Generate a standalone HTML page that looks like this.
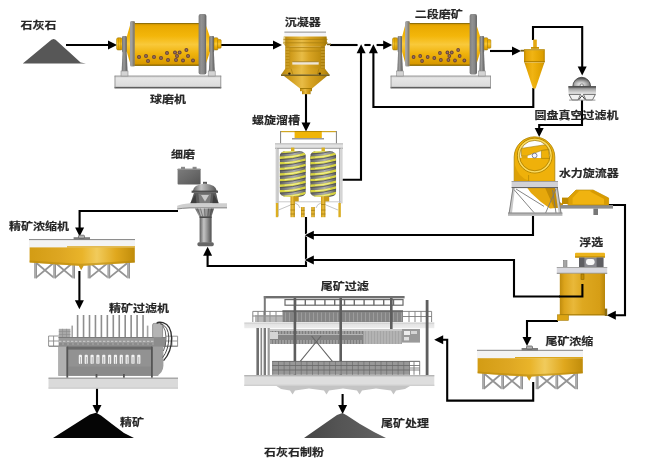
<!DOCTYPE html>
<html lang="zh-CN"><head><meta charset="utf-8"><title>石灰石制粉</title>
<style>
html,body{margin:0;padding:0;background:#fff;}
body{width:650px;height:460px;overflow:hidden;}
svg{display:block;}
text{font-family:"Liberation Sans","Noto Sans CJK SC",sans-serif;font-size:12px;font-weight:700;fill:#262626;stroke:#262626;stroke-width:0.2px;}
.ln{fill:none;stroke:#000;stroke-width:2.1;stroke-linejoin:miter;}
.ah{fill:#000;}
</style></head><body>
<svg width="650" height="460" viewBox="0 0 650 460">
<defs>
<linearGradient id="gDrum" x1="0" y1="0" x2="0" y2="1">
<stop offset="0" stop-color="#c48c00"/><stop offset="0.06" stop-color="#e9a900"/><stop offset="0.3" stop-color="#f3b60a"/><stop offset="0.5" stop-color="#f9c93a"/><stop offset="0.72" stop-color="#efb20c"/><stop offset="0.95" stop-color="#d99a00"/><stop offset="1" stop-color="#a87800"/>
</linearGradient>
<linearGradient id="gRing" x1="0" y1="0" x2="1" y2="0">
<stop offset="0" stop-color="#7c7c7c"/><stop offset="0.35" stop-color="#929292"/><stop offset="0.7" stop-color="#868686"/><stop offset="1" stop-color="#5c5c5c"/>
</linearGradient>
<linearGradient id="gPost" x1="0" y1="0" x2="1" y2="0">
<stop offset="0" stop-color="#6e6e6e"/><stop offset="0.4" stop-color="#9a9a9a"/><stop offset="1" stop-color="#585858"/>
</linearGradient>
<linearGradient id="gBase" x1="0" y1="0" x2="0" y2="1">
<stop offset="0" stop-color="#c9c9c9"/><stop offset="0.2" stop-color="#e6e6e6"/><stop offset="0.8" stop-color="#dcdcdc"/><stop offset="1" stop-color="#9a9a9a"/>
</linearGradient>
<linearGradient id="gTank" x1="0" y1="0" x2="1" y2="0">
<stop offset="0" stop-color="#c08a00"/><stop offset="0.12" stop-color="#e4a404"/><stop offset="0.4" stop-color="#f0b414"/><stop offset="0.6" stop-color="#eaac08"/><stop offset="0.9" stop-color="#dc9e00"/><stop offset="1" stop-color="#b88400"/>
</linearGradient>
<linearGradient id="gThk" x1="0" y1="0" x2="1" y2="0">
<stop offset="0" stop-color="#d39c14"/><stop offset="0.3" stop-color="#dea722"/><stop offset="0.5" stop-color="#e9b42a"/><stop offset="0.64" stop-color="#f1cb5c"/><stop offset="0.82" stop-color="#e0a81e"/><stop offset="1" stop-color="#c08c0a"/>
</linearGradient>
<linearGradient id="gPile" x1="0" y1="0" x2="1" y2="0">
<stop offset="0" stop-color="#464646"/><stop offset="0.45" stop-color="#555"/><stop offset="1" stop-color="#626262"/>
</linearGradient>
<linearGradient id="gGrayV" x1="0" y1="0" x2="0" y2="1">
<stop offset="0" stop-color="#9c9c9c"/><stop offset="0.5" stop-color="#7d7d7d"/><stop offset="1" stop-color="#6a6a6a"/>
</linearGradient>
<linearGradient id="gCyl" x1="0" y1="0" x2="1" y2="0">
<stop offset="0" stop-color="#5e5e5e"/><stop offset="0.35" stop-color="#c4c4c4"/><stop offset="0.6" stop-color="#9a9a9a"/><stop offset="1" stop-color="#4f4f4f"/>
</linearGradient>
<linearGradient id="gDome" x1="0" y1="0" x2="1" y2="1">
<stop offset="0" stop-color="#d8d8d8"/><stop offset="0.5" stop-color="#8c8c8c"/><stop offset="1" stop-color="#444"/>
</linearGradient>
<linearGradient id="gGold" x1="0" y1="0" x2="1" y2="0">
<stop offset="0" stop-color="#b88a10"/><stop offset="0.15" stop-color="#d9a41c"/><stop offset="0.42" stop-color="#efc24a"/><stop offset="0.6" stop-color="#e0aa22"/><stop offset="0.88" stop-color="#c8940e"/><stop offset="1" stop-color="#a87c08"/>
</linearGradient>
<linearGradient id="gSpir" x1="0" y1="0" x2="1" y2="0">
<stop offset="0" stop-color="#5e5e5e"/><stop offset="0.3" stop-color="#8c8c8c"/><stop offset="0.55" stop-color="#b0b0b0"/><stop offset="0.8" stop-color="#8a8a8a"/><stop offset="1" stop-color="#5a5a5a"/>
</linearGradient>
<linearGradient id="gLeg" x1="0" y1="0" x2="1" y2="0">
<stop offset="0" stop-color="#c89616"/><stop offset="0.5" stop-color="#ecc040"/><stop offset="1" stop-color="#b88a10"/>
</linearGradient>
<radialGradient id="gDomeR" cx="0.45" cy="0.75" r="0.7">
<stop offset="0" stop-color="#f4f4f4"/><stop offset="0.45" stop-color="#b0b0b0"/><stop offset="1" stop-color="#484848"/>
</radialGradient>
<linearGradient id="gDiscB" x1="0" y1="0" x2="0" y2="1">
<stop offset="0" stop-color="#5e5e5e"/><stop offset="0.35" stop-color="#a8a8a8"/><stop offset="1" stop-color="#f4f4f4"/>
</linearGradient>
<linearGradient id="gMotor" x1="0" y1="0" x2="1" y2="1">
<stop offset="0" stop-color="#7c7c7c"/><stop offset="0.5" stop-color="#6a6a6a"/><stop offset="1" stop-color="#545454"/>
</linearGradient>
<linearGradient id="gFlot" x1="0" y1="0" x2="1" y2="0">
<stop offset="0" stop-color="#c08c0e"/><stop offset="0.1" stop-color="#dca41c"/><stop offset="0.3" stop-color="#e9b83a"/><stop offset="0.5" stop-color="#dea820"/><stop offset="0.88" stop-color="#d69e16"/><stop offset="1" stop-color="#b8860a"/>
</linearGradient>
<linearGradient id="gSet" x1="0" y1="0" x2="1" y2="0">
<stop offset="0" stop-color="#b08410"/><stop offset="0.15" stop-color="#d09c1c"/><stop offset="0.42" stop-color="#e8bc46"/><stop offset="0.6" stop-color="#d8a424"/><stop offset="0.88" stop-color="#c08e10"/><stop offset="1" stop-color="#a07808"/>
</linearGradient>
<linearGradient id="gPlat" x1="0" y1="0" x2="0" y2="1">
<stop offset="0" stop-color="#bdbdbd"/><stop offset="0.25" stop-color="#e2e2e2"/><stop offset="1" stop-color="#ededed"/>
</linearGradient>

</defs>
<rect width="650" height="460" fill="#fff"/>
<g id="flows"><path class="ln" d="M66 45 L110 45"/>
<polygon class="ah" points="117,45 108,40.5 108,49.5"/>
<path class="ln" d="M221 45 L275 45"/>
<polygon class="ah" points="282,45 273,40.5 273,49.5"/>
<path class="ln" d="M330 45 L357.6 45"/>
<path class="ln" d="M364.4 45 L370.6 45"/>
<path class="ln" d="M376.6 45 L385 45"/>
<polygon class="ah" points="392.2,45 383.2,40.5 383.2,49.5"/>
<path class="ln" d="M306 94 L306 124"/>
<polygon class="ah" points="306,131.5 301.5,122.5 310.5,122.5"/>
<path class="ln" d="M342.4 179.8 L361 179.8 L361 52"/>
<polygon class="ah" points="361.1,44.2 356.6,53.2 365.6,53.2"/>
<path class="ln" d="M533.3 88 L533.3 107 L373.4 107 L373.4 52"/>
<polygon class="ah" points="373.4,44.2 368.9,53.2 377.9,53.2"/>
<path class="ln" d="M490 51 L514 51"/>
<polygon class="ah" points="521,51 512,46.5 512,55.5"/>
<path class="ln" d="M533 40 L533 27 L582.2 27 L582.2 68"/>
<polygon class="ah" points="582.2,75.4 577.7,66.4 586.7,66.4"/>
<path class="ln" d="M582 99 L582 125 L539.2 125 L539.2 129"/>
<polygon class="ah" points="539.2,137 534.7,128 543.7,128"/>
<path class="ln" d="M306 217 L306 266 L207.6 266 L207.6 254"/>
<polygon class="ah" points="207.6,246.8 203.1,255.8 212.1,255.8"/>
<polygon class="ah" stroke="#fff" stroke-width="1.3" style="paint-order:stroke" points="304.8,235.2 313.8,230.7 313.8,239.7"/>
<path class="ln" d="M533 216 L533 235 L311 235"/>
<path class="ln" d="M608 205 L625 205 L625 315.2 L615 315.2"/>
<polygon class="ah" points="606.8,315.2 615.8,310.7 615.8,319.7"/>
<polygon class="ah" stroke="#fff" stroke-width="1.3" style="paint-order:stroke" points="304.8,260 313.8,255.5 313.8,264.5"/>
<path class="ln" d="M582.4 284 L582.4 296.5 L514 296.5 L514 260 L311 260"/>
<path class="ln" d="M558 321 L527 321 L527 339"/>
<polygon class="ah" points="527,346 522.5,337 531.5,337"/>
<path class="ln" d="M533.2 382 L533.2 400.6 L447.2 400.6 L447.2 339.8 L442 339.8"/>
<polygon class="ah" points="434.2,339.8 443.2,335.3 443.2,344.3"/>
<path class="ln" d="M178 211 L79.6 211 L79.6 229"/>
<polygon class="ah" points="79.6,236.5 75.1,227.5 84.1,227.5"/>
<path class="ln" d="M79.4 271 L79.4 301"/>
<polygon class="ah" points="79.4,309.3 74.9,300.3 83.9,300.3"/>
<path class="ln" d="M97 388 L97 407"/>
<polygon class="ah" points="97,414 92.5,405 101.5,405"/>
<path class="ln" d="M342.6 394 L342.6 407"/>
<polygon class="ah" points="342.6,414 338.1,405 347.1,405"/></g>
<polygon points="22.8,63.6 51.4,39.8 53.6,38.9 55.6,39.8 68,51 80.6,62.4 86,63.6" fill="#575757"/>
<polygon points="53,438 90,414.5 96,412.8 101,415.5 112,424 124,433 134,438" fill="#050505"/>
<polygon points="304,438 337,415 342.5,413 347,415.5 360,424 374,432 386,438" fill="url(#gPile)"/>
<g transform="translate(115.6,0)"><rect x="-1" y="75.8" width="106.6" height="12.4" fill="url(#gBase)"/>
<rect x="-1" y="87" width="106.6" height="1.4" fill="#5e5e5e"/>
<rect x="-1" y="75.6" width="106.6" height="0.9" fill="#9a9a9a"/>
<rect x="-1" y="75.8" width="0.8" height="12.4" fill="#8a8a8a"/><rect x="104.8" y="75.8" width="0.8" height="12.4" fill="#8a8a8a"/>
<polygon points="7,50 11,50 12,72 6,72" fill="url(#gPost)"/>
<rect x="5.4" y="71" width="7" height="5" fill="#d4d4d4" stroke="#8a8a8a" stroke-width="0.6"/>
<polygon points="94.2,50 98.2,50 99.2,72 93.2,72" fill="url(#gPost)"/>
<rect x="92.6" y="71" width="7" height="5" fill="#d4d4d4" stroke="#8a8a8a" stroke-width="0.6"/>
<rect x="1" y="37.8" width="5.6" height="12.2" rx="1.5" fill="url(#gDrum)" stroke="#9a7400" stroke-width="0.5"/>
<path d="M3 38 V50 M4.8 38 V50" stroke="#b88a00" stroke-width="0.6"/>
<rect x="6.4" y="36" width="5" height="16.4" rx="1.4" fill="url(#gPost)"/>
<polygon points="11.2,36.5 14.8,24 14.8,64 11.2,52" fill="url(#gDrum)"/>
<rect x="14.4" y="21" width="5" height="45.6" rx="1.5" fill="#a0a0a0"/>
<rect x="17" y="21.5" width="2.4" height="44.6" fill="#6e6040" opacity="0.5"/>
<rect x="19.2" y="23.3" width="64.4" height="42.3" fill="url(#gDrum)"/>
<rect x="19.2" y="23.1" width="64.4" height="0.9" fill="#8a6a00"/>
<rect x="19.2" y="64.8" width="64.4" height="1" fill="#8a6a00"/>
<circle cx="23.4" cy="57.0" r="2" fill="#6a463a"/>
<circle cx="23.4" cy="57.0" r="0.9" fill="#9a7468"/>
<circle cx="30.4" cy="56.0" r="2" fill="#6a463a"/>
<circle cx="30.4" cy="56.0" r="0.9" fill="#9a7468"/>
<circle cx="32.4" cy="61.0" r="2" fill="#6a463a"/>
<circle cx="32.4" cy="61.0" r="0.9" fill="#9a7468"/>
<circle cx="38.4" cy="57.0" r="2" fill="#6a463a"/>
<circle cx="38.4" cy="57.0" r="0.9" fill="#9a7468"/>
<circle cx="45.4" cy="58.0" r="2" fill="#6a463a"/>
<circle cx="45.4" cy="58.0" r="0.9" fill="#9a7468"/>
<circle cx="51.4" cy="53.0" r="2" fill="#6a463a"/>
<circle cx="51.4" cy="53.0" r="0.9" fill="#9a7468"/>
<circle cx="52.4" cy="60.0" r="2" fill="#6a463a"/>
<circle cx="52.4" cy="60.0" r="0.9" fill="#9a7468"/>
<circle cx="59.4" cy="52.4" r="2" fill="#6a463a"/>
<circle cx="59.4" cy="52.4" r="0.9" fill="#9a7468"/>
<circle cx="61.4" cy="56.0" r="2" fill="#6a463a"/>
<circle cx="61.4" cy="56.0" r="0.9" fill="#9a7468"/>
<circle cx="60.4" cy="60.0" r="2" fill="#6a463a"/>
<circle cx="60.4" cy="60.0" r="0.9" fill="#9a7468"/>
<circle cx="64.0" cy="52.4" r="2" fill="#6a463a"/>
<circle cx="64.0" cy="52.4" r="0.9" fill="#9a7468"/>
<circle cx="67.4" cy="60.4" r="2" fill="#6a463a"/>
<circle cx="67.4" cy="60.4" r="0.9" fill="#9a7468"/>
<circle cx="70.8" cy="50.0" r="2" fill="#6a463a"/>
<circle cx="70.8" cy="50.0" r="0.9" fill="#9a7468"/>
<circle cx="72.4" cy="56.0" r="2" fill="#6a463a"/>
<circle cx="72.4" cy="56.0" r="0.9" fill="#9a7468"/>
<circle cx="77.4" cy="60.4" r="2" fill="#6a463a"/>
<circle cx="77.4" cy="60.4" r="0.9" fill="#9a7468"/>
<rect x="83" y="14" width="7.8" height="60.4" rx="2" fill="url(#gRing)"/>
<polygon points="90.6,26 94.4,37 94.4,52 90.6,63" fill="url(#gDrum)"/>
<rect x="93.6" y="36" width="5" height="16.4" rx="1.4" fill="url(#gPost)"/>
<rect x="98.4" y="37.8" width="4" height="12.2" rx="1" fill="url(#gDrum)" stroke="#9a7400" stroke-width="0.5"/>
<rect x="102" y="39.6" width="3.6" height="8.6" rx="1" fill="url(#gDrum)" stroke="#9a7400" stroke-width="0.5"/></g>
<g transform="translate(391.6,0) scale(0.94,1)"><rect x="-1" y="75.8" width="106.6" height="12.4" fill="url(#gBase)"/>
<rect x="-1" y="87" width="106.6" height="1.4" fill="#5e5e5e"/>
<rect x="-1" y="75.6" width="106.6" height="0.9" fill="#9a9a9a"/>
<rect x="-1" y="75.8" width="0.8" height="12.4" fill="#8a8a8a"/><rect x="104.8" y="75.8" width="0.8" height="12.4" fill="#8a8a8a"/>
<polygon points="7,50 11,50 12,72 6,72" fill="url(#gPost)"/>
<rect x="5.4" y="71" width="7" height="5" fill="#d4d4d4" stroke="#8a8a8a" stroke-width="0.6"/>
<polygon points="94.2,50 98.2,50 99.2,72 93.2,72" fill="url(#gPost)"/>
<rect x="92.6" y="71" width="7" height="5" fill="#d4d4d4" stroke="#8a8a8a" stroke-width="0.6"/>
<rect x="1" y="37.8" width="5.6" height="12.2" rx="1.5" fill="url(#gDrum)" stroke="#9a7400" stroke-width="0.5"/>
<path d="M3 38 V50 M4.8 38 V50" stroke="#b88a00" stroke-width="0.6"/>
<rect x="6.4" y="36" width="5" height="16.4" rx="1.4" fill="url(#gPost)"/>
<polygon points="11.2,36.5 14.8,24 14.8,64 11.2,52" fill="url(#gDrum)"/>
<rect x="14.4" y="21" width="5" height="45.6" rx="1.5" fill="#a0a0a0"/>
<rect x="17" y="21.5" width="2.4" height="44.6" fill="#6e6040" opacity="0.5"/>
<rect x="19.2" y="23.3" width="64.4" height="42.3" fill="url(#gDrum)"/>
<rect x="19.2" y="23.1" width="64.4" height="0.9" fill="#8a6a00"/>
<rect x="19.2" y="64.8" width="64.4" height="1" fill="#8a6a00"/>
<circle cx="23.4" cy="57.0" r="2" fill="#6a463a"/>
<circle cx="23.4" cy="57.0" r="0.9" fill="#9a7468"/>
<circle cx="30.4" cy="56.0" r="2" fill="#6a463a"/>
<circle cx="30.4" cy="56.0" r="0.9" fill="#9a7468"/>
<circle cx="32.4" cy="61.0" r="2" fill="#6a463a"/>
<circle cx="32.4" cy="61.0" r="0.9" fill="#9a7468"/>
<circle cx="38.4" cy="57.0" r="2" fill="#6a463a"/>
<circle cx="38.4" cy="57.0" r="0.9" fill="#9a7468"/>
<circle cx="45.4" cy="58.0" r="2" fill="#6a463a"/>
<circle cx="45.4" cy="58.0" r="0.9" fill="#9a7468"/>
<circle cx="51.4" cy="53.0" r="2" fill="#6a463a"/>
<circle cx="51.4" cy="53.0" r="0.9" fill="#9a7468"/>
<circle cx="52.4" cy="60.0" r="2" fill="#6a463a"/>
<circle cx="52.4" cy="60.0" r="0.9" fill="#9a7468"/>
<circle cx="59.4" cy="52.4" r="2" fill="#6a463a"/>
<circle cx="59.4" cy="52.4" r="0.9" fill="#9a7468"/>
<circle cx="61.4" cy="56.0" r="2" fill="#6a463a"/>
<circle cx="61.4" cy="56.0" r="0.9" fill="#9a7468"/>
<circle cx="60.4" cy="60.0" r="2" fill="#6a463a"/>
<circle cx="60.4" cy="60.0" r="0.9" fill="#9a7468"/>
<circle cx="64.0" cy="52.4" r="2" fill="#6a463a"/>
<circle cx="64.0" cy="52.4" r="0.9" fill="#9a7468"/>
<circle cx="67.4" cy="60.4" r="2" fill="#6a463a"/>
<circle cx="67.4" cy="60.4" r="0.9" fill="#9a7468"/>
<circle cx="70.8" cy="50.0" r="2" fill="#6a463a"/>
<circle cx="70.8" cy="50.0" r="0.9" fill="#9a7468"/>
<circle cx="72.4" cy="56.0" r="2" fill="#6a463a"/>
<circle cx="72.4" cy="56.0" r="0.9" fill="#9a7468"/>
<circle cx="77.4" cy="60.4" r="2" fill="#6a463a"/>
<circle cx="77.4" cy="60.4" r="0.9" fill="#9a7468"/>
<rect x="83" y="14" width="7.8" height="60.4" rx="2" fill="url(#gRing)"/>
<polygon points="90.6,26 94.4,37 94.4,52 90.6,63" fill="url(#gDrum)"/>
<rect x="93.6" y="36" width="5" height="16.4" rx="1.4" fill="url(#gPost)"/>
<rect x="98.4" y="37.8" width="4" height="12.2" rx="1" fill="url(#gDrum)" stroke="#9a7400" stroke-width="0.5"/>
<rect x="102" y="39.6" width="3.6" height="8.6" rx="1" fill="url(#gDrum)" stroke="#9a7400" stroke-width="0.5"/></g>
<g id="settler">
<rect x="284.4" y="32" width="41.6" height="4.6" fill="#f4f4f8"/>
<rect x="284.4" y="31.6" width="41.6" height="1" fill="#8e8e8e"/>
<path d="M283.8 36.5 L326.6 36.5 L327 43.5 L325 46.2 L285.4 46.2 L283.6 43.5 Z" fill="url(#gSet)"/>
<rect x="283.6" y="36.5" width="1.6" height="8" fill="#f0e2a8" opacity="0.8"/>
<path d="M283.4 39.4 H327.6 M283.2 42.8 H327.8" stroke="#a67c10" stroke-width="0.7" fill="none"/>
<rect x="327" y="43.6" width="4" height="1.6" fill="#6e5a20"/>
<rect x="285.4" y="46.2" width="39.4" height="23" fill="url(#gSet)"/>
<rect x="285.4" y="46.2" width="4" height="23" fill="#b98a10" opacity="0.75"/>
<rect x="320.8" y="46.2" width="4" height="23" fill="#a87c0c" opacity="0.75"/>
<path d="M285.4 49 h4 M285.4 52 h4 M285.4 55 h4 M285.4 58 h4 M285.4 61 h4 M285.4 64 h4 M285.4 67 h4 M320.8 49 h4 M320.8 52 h4 M320.8 55 h4 M320.8 58 h4 M320.8 61 h4 M320.8 64 h4 M320.8 67 h4" stroke="#e6be4a" stroke-width="0.7" fill="none"/>
<path d="M289.4 47.4 H320.8 M289.4 51 H320.8" stroke="#b08412" stroke-width="0.8" fill="none"/>
<rect x="292.3" y="61.8" width="26.4" height="2.8" fill="#efe6d8"/>
<rect x="292.3" y="61.4" width="26.4" height="0.8" fill="#9c7a20"/>
<path d="M285.4 68.6 L324.8 68.6 L329.6 74.8 L281 74.8 Z" fill="url(#gSet)"/>
<path d="M291 68.6 L293 74.6 M319 68.6 L317.4 74.6" stroke="#a67c10" stroke-width="0.7"/>
<rect x="281" y="74.4" width="48.6" height="1.6" fill="#7a6420"/>
<circle cx="289.4" cy="73.6" r="1.2" fill="#2a2208"/><circle cx="319.8" cy="73.6" r="1.2" fill="#2a2208"/>
<polygon points="284,76 327,76 312,88.4 300,88.4" fill="url(#gSet)"/>
<rect x="300" y="88.2" width="12" height="3" fill="url(#gSet)"/>
<rect x="300" y="88" width="12" height="0.9" fill="#9c7400"/>
<rect x="302" y="91" width="8.6" height="3.2" fill="url(#gSet)"/>
</g>
<clipPath id="cpL"><rect x="279.6" y="151.2" width="26.2" height="45.6" rx="6" ry="5"/></clipPath>
<clipPath id="cpR"><rect x="310.2" y="151.2" width="26" height="45.6" rx="6" ry="5"/></clipPath>
<g id="spiral">
<rect x="280" y="131" width="57" height="1.2" fill="#d0a622"/>
<rect x="280" y="131" width="1.1" height="12.6" fill="#8a8a8a"/><rect x="335.9" y="131" width="1.1" height="12.6" fill="#8a8a8a"/>
<rect x="294.6" y="131.2" width="27.2" height="7" fill="#f0b508"/>
<rect x="292" y="138" width="32" height="1.5" fill="#9a9a9a"/>
<rect x="294.6" y="131" width="27.2" height="1" fill="#b88a00"/>
<rect x="275" y="143.6" width="68" height="4.8" fill="#e2e2e2"/>
<rect x="275" y="143.4" width="68" height="0.9" fill="#b0b0b0"/>
<rect x="275" y="147.8" width="68" height="1" fill="#9c9c9c"/>
<rect x="275.6" y="148.4" width="1.6" height="55" fill="#cfcfcf"/>
<rect x="340.6" y="148.4" width="2" height="55" fill="#d4d4d4"/>
<rect x="339.4" y="148.4" width="0.8" height="68" fill="#7a7a7a"/>
<rect x="277.6" y="148.4" width="0.8" height="68" fill="#8a8a8a"/>
<path d="M277 201.8 H341" stroke="#c4c4c4" stroke-width="0.9"/>
<rect x="291" y="147.6" width="3.4" height="5" fill="#d9b020"/>
<g clip-path="url(#cpL)">
<rect x="279.6" y="150" width="26.2" height="48" fill="url(#gSpir)"/>
<path d="M279.6 152.1 Q292.7 152.1 305.8 148.1" stroke="#d6d240" stroke-width="2.4" fill="none"/>
<path d="M284.6 151.6 Q292.7 151.5 299.8 149.5" stroke="#f0ee8c" stroke-width="1.1" fill="none"/>
<path d="M279.6 154 Q292.7 154 305.8 150" stroke="#4a4a4a" stroke-width="0.9" fill="none" opacity="0.85"/>
<path d="M279.6 157.7 Q292.7 157.7 305.8 153.7" stroke="#d6d240" stroke-width="2.4" fill="none"/>
<path d="M284.6 157.2 Q292.7 157.1 299.8 155.1" stroke="#f0ee8c" stroke-width="1.1" fill="none"/>
<path d="M279.6 159.6 Q292.7 159.6 305.8 155.6" stroke="#4a4a4a" stroke-width="0.9" fill="none" opacity="0.85"/>
<path d="M279.6 163.3 Q292.7 163.3 305.8 159.3" stroke="#d6d240" stroke-width="2.4" fill="none"/>
<path d="M284.6 162.8 Q292.7 162.7 299.8 160.7" stroke="#f0ee8c" stroke-width="1.1" fill="none"/>
<path d="M279.6 165.2 Q292.7 165.2 305.8 161.2" stroke="#4a4a4a" stroke-width="0.9" fill="none" opacity="0.85"/>
<path d="M279.6 168.9 Q292.7 168.9 305.8 164.9" stroke="#d6d240" stroke-width="2.4" fill="none"/>
<path d="M284.6 168.4 Q292.7 168.3 299.8 166.3" stroke="#f0ee8c" stroke-width="1.1" fill="none"/>
<path d="M279.6 170.8 Q292.7 170.8 305.8 166.8" stroke="#4a4a4a" stroke-width="0.9" fill="none" opacity="0.85"/>
<path d="M279.6 174.5 Q292.7 174.5 305.8 170.5" stroke="#d6d240" stroke-width="2.4" fill="none"/>
<path d="M284.6 174 Q292.7 173.9 299.8 171.9" stroke="#f0ee8c" stroke-width="1.1" fill="none"/>
<path d="M279.6 176.4 Q292.7 176.4 305.8 172.4" stroke="#4a4a4a" stroke-width="0.9" fill="none" opacity="0.85"/>
<path d="M279.6 180.1 Q292.7 180.1 305.8 176.1" stroke="#d6d240" stroke-width="2.4" fill="none"/>
<path d="M284.6 179.6 Q292.7 179.5 299.8 177.5" stroke="#f0ee8c" stroke-width="1.1" fill="none"/>
<path d="M279.6 182 Q292.7 182 305.8 178" stroke="#4a4a4a" stroke-width="0.9" fill="none" opacity="0.85"/>
<path d="M279.6 185.7 Q292.7 185.7 305.8 181.7" stroke="#d6d240" stroke-width="2.4" fill="none"/>
<path d="M284.6 185.2 Q292.7 185.1 299.8 183.1" stroke="#f0ee8c" stroke-width="1.1" fill="none"/>
<path d="M279.6 187.6 Q292.7 187.6 305.8 183.6" stroke="#4a4a4a" stroke-width="0.9" fill="none" opacity="0.85"/>
<path d="M279.6 191.3 Q292.7 191.3 305.8 187.3" stroke="#d6d240" stroke-width="2.4" fill="none"/>
<path d="M284.6 190.8 Q292.7 190.7 299.8 188.7" stroke="#f0ee8c" stroke-width="1.1" fill="none"/>
<path d="M279.6 193.2 Q292.7 193.2 305.8 189.2" stroke="#4a4a4a" stroke-width="0.9" fill="none" opacity="0.85"/>
<path d="M279.6 196.9 Q292.7 196.9 305.8 192.9" stroke="#d6d240" stroke-width="2.4" fill="none"/>
<path d="M284.6 196.4 Q292.7 196.3 299.8 194.3" stroke="#f0ee8c" stroke-width="1.1" fill="none"/>
<path d="M279.6 198.8 Q292.7 198.8 305.8 194.8" stroke="#4a4a4a" stroke-width="0.9" fill="none" opacity="0.85"/>
<path d="M279.6 202.5 Q292.7 202.5 305.8 198.5" stroke="#d6d240" stroke-width="2.4" fill="none"/>
<path d="M284.6 202 Q292.7 201.9 299.8 199.9" stroke="#f0ee8c" stroke-width="1.1" fill="none"/>
<path d="M279.6 204.4 Q292.7 204.4 305.8 200.4" stroke="#4a4a4a" stroke-width="0.9" fill="none" opacity="0.85"/>
</g>
<rect x="290.5" y="196.4" width="4.4" height="20.8" fill="url(#gLeg)"/>
<rect x="293.7" y="196.4" width="5" height="5" fill="#c99a18"/>
<path d="M290.5 204.5 h4.4 M290.5 210 h4.4 M290.5 214 h4.4" stroke="#a88210" stroke-width="0.8"/>
<rect x="321.5" y="147.6" width="3.4" height="5" fill="#d9b020"/>
<g clip-path="url(#cpR)">
<rect x="310.2" y="150" width="26" height="48" fill="url(#gSpir)"/>
<path d="M310.2 152.1 Q323.2 152.1 336.2 148.1" stroke="#d6d240" stroke-width="2.4" fill="none"/>
<path d="M315.2 151.6 Q323.2 151.5 330.2 149.5" stroke="#f0ee8c" stroke-width="1.1" fill="none"/>
<path d="M310.2 154 Q323.2 154 336.2 150" stroke="#4a4a4a" stroke-width="0.9" fill="none" opacity="0.85"/>
<path d="M310.2 157.7 Q323.2 157.7 336.2 153.7" stroke="#d6d240" stroke-width="2.4" fill="none"/>
<path d="M315.2 157.2 Q323.2 157.1 330.2 155.1" stroke="#f0ee8c" stroke-width="1.1" fill="none"/>
<path d="M310.2 159.6 Q323.2 159.6 336.2 155.6" stroke="#4a4a4a" stroke-width="0.9" fill="none" opacity="0.85"/>
<path d="M310.2 163.3 Q323.2 163.3 336.2 159.3" stroke="#d6d240" stroke-width="2.4" fill="none"/>
<path d="M315.2 162.8 Q323.2 162.7 330.2 160.7" stroke="#f0ee8c" stroke-width="1.1" fill="none"/>
<path d="M310.2 165.2 Q323.2 165.2 336.2 161.2" stroke="#4a4a4a" stroke-width="0.9" fill="none" opacity="0.85"/>
<path d="M310.2 168.9 Q323.2 168.9 336.2 164.9" stroke="#d6d240" stroke-width="2.4" fill="none"/>
<path d="M315.2 168.4 Q323.2 168.3 330.2 166.3" stroke="#f0ee8c" stroke-width="1.1" fill="none"/>
<path d="M310.2 170.8 Q323.2 170.8 336.2 166.8" stroke="#4a4a4a" stroke-width="0.9" fill="none" opacity="0.85"/>
<path d="M310.2 174.5 Q323.2 174.5 336.2 170.5" stroke="#d6d240" stroke-width="2.4" fill="none"/>
<path d="M315.2 174 Q323.2 173.9 330.2 171.9" stroke="#f0ee8c" stroke-width="1.1" fill="none"/>
<path d="M310.2 176.4 Q323.2 176.4 336.2 172.4" stroke="#4a4a4a" stroke-width="0.9" fill="none" opacity="0.85"/>
<path d="M310.2 180.1 Q323.2 180.1 336.2 176.1" stroke="#d6d240" stroke-width="2.4" fill="none"/>
<path d="M315.2 179.6 Q323.2 179.5 330.2 177.5" stroke="#f0ee8c" stroke-width="1.1" fill="none"/>
<path d="M310.2 182 Q323.2 182 336.2 178" stroke="#4a4a4a" stroke-width="0.9" fill="none" opacity="0.85"/>
<path d="M310.2 185.7 Q323.2 185.7 336.2 181.7" stroke="#d6d240" stroke-width="2.4" fill="none"/>
<path d="M315.2 185.2 Q323.2 185.1 330.2 183.1" stroke="#f0ee8c" stroke-width="1.1" fill="none"/>
<path d="M310.2 187.6 Q323.2 187.6 336.2 183.6" stroke="#4a4a4a" stroke-width="0.9" fill="none" opacity="0.85"/>
<path d="M310.2 191.3 Q323.2 191.3 336.2 187.3" stroke="#d6d240" stroke-width="2.4" fill="none"/>
<path d="M315.2 190.8 Q323.2 190.7 330.2 188.7" stroke="#f0ee8c" stroke-width="1.1" fill="none"/>
<path d="M310.2 193.2 Q323.2 193.2 336.2 189.2" stroke="#4a4a4a" stroke-width="0.9" fill="none" opacity="0.85"/>
<path d="M310.2 196.9 Q323.2 196.9 336.2 192.9" stroke="#d6d240" stroke-width="2.4" fill="none"/>
<path d="M315.2 196.4 Q323.2 196.3 330.2 194.3" stroke="#f0ee8c" stroke-width="1.1" fill="none"/>
<path d="M310.2 198.8 Q323.2 198.8 336.2 194.8" stroke="#4a4a4a" stroke-width="0.9" fill="none" opacity="0.85"/>
<path d="M310.2 202.5 Q323.2 202.5 336.2 198.5" stroke="#d6d240" stroke-width="2.4" fill="none"/>
<path d="M315.2 202 Q323.2 201.9 330.2 199.9" stroke="#f0ee8c" stroke-width="1.1" fill="none"/>
<path d="M310.2 204.4 Q323.2 204.4 336.2 200.4" stroke="#4a4a4a" stroke-width="0.9" fill="none" opacity="0.85"/>
</g>
<rect x="321" y="196.4" width="4.4" height="20.8" fill="url(#gLeg)"/>
<rect x="324.2" y="196.4" width="5" height="5" fill="#c99a18"/>
<path d="M321 204.5 h4.4 M321 210 h4.4 M321 214 h4.4" stroke="#a88210" stroke-width="0.8"/>
<rect x="275.8" y="203" width="2.4" height="14.2" fill="#dcae20"/>
<rect x="338.4" y="203" width="2.4" height="14.2" fill="#dcae20"/>
<rect x="301" y="207" width="3.6" height="10.2" fill="url(#gLeg)"/>
<path d="M301 210.4 h3.6 M301 214 h3.6" stroke="#a88210" stroke-width="0.8"/>
<rect x="311.2" y="207" width="3.6" height="10.2" fill="url(#gLeg)"/>
<path d="M311.2 210.4 h3.6 M311.2 214 h3.6" stroke="#a88210" stroke-width="0.8"/>
<path d="M278.5 210 L290.5 205 M338 210 L326 205 M295 203 Q299 204 300 208 M321 203 Q317 204 316 208" stroke="#b5b5b5" stroke-width="0.8" fill="none"/>
</g>
<g id="finemill">
<rect x="181" y="166.8" width="4" height="2.4" fill="#8a8a8a"/><rect x="192.6" y="166.8" width="4" height="2.4" fill="#8a8a8a"/>
<rect x="177.6" y="168.8" width="23" height="15.8" rx="0.8" fill="url(#gMotor)"/>
<rect x="177.6" y="168.8" width="23" height="1.2" fill="#8e8e8e"/>
<rect x="203" y="181.8" width="4" height="2.4" fill="#5a5a5a"/>
<path d="M192.6 191.6 Q193.2 184.6 204.8 183.6 Q216.4 184.6 217 191.6 Z" fill="url(#gCyl)"/>
<rect x="191.6" y="190.6" width="26.4" height="2.2" fill="#4e4e4e"/>
<polygon points="194,192.8 216,192.8 218.6,203.4 190.4,203.4" fill="#5c5c5c"/>
<polygon points="198.4,193.6 211.2,193.6 210,203 199.6,203" fill="#7c7c7c"/>
<polygon points="201,195 209,195 205,201.4" fill="#c9c9c9"/>
<polygon points="190.2,203.4 195.4,194 196.6,203.4" fill="#3e3e3e"/>
<polygon points="218.8,203.4 213.6,194 212.4,203.4" fill="#3e3e3e"/>
<path d="M177.2 209 L177.2 205.8 Q181 203.8 190 203.2 L227 203.2 L227 208.2 L190 208.2 Q182 208.4 177.2 209 Z" fill="#cfcfcf"/>
<path d="M177.2 209 Q182 208.2 190 207.8 L227 207.8" stroke="#8a8a8a" stroke-width="1" fill="none"/>
<polygon points="195,208.4 214,208.4 211.4,217 199.4,217" fill="url(#gCyl)"/>
<path d="M197.5 208.6 L200.6 216.6 M200.6 208.6 L202.6 216.6 M204.6 208.6 L205 216.6 M208.6 208.6 L207.8 216.6 M211.6 208.6 L210 216.6" stroke="#3c3c3c" stroke-width="0.7" opacity="0.8"/>
<rect x="199.6" y="216.6" width="12" height="26" fill="url(#gCyl)"/>
<rect x="199.6" y="216.4" width="12" height="1.6" fill="#4a4a4a"/>
<rect x="197.4" y="242.2" width="16.4" height="4" rx="1.6" fill="#666"/>
</g>
<g transform="translate(29,239)"><path d="M7.4 24.0 L24.5 38.4 M24.5 24.0 L7.4 38.4" stroke="#949494" stroke-width="1.8" fill="none"/>
<path d="M26.5 24.0 L43.6 38.4 M43.6 24.0 L26.5 38.4" stroke="#949494" stroke-width="1.8" fill="none"/>
<rect x="5.0" y="22.0" width="2.8" height="17.4" fill="#acacac"/>
<rect x="7.0" y="22.0" width="0.8" height="17.4" fill="#8a8a8a"/>
<rect x="24.1" y="22.0" width="2.8" height="17.4" fill="#acacac"/>
<rect x="26.1" y="22.0" width="0.8" height="17.4" fill="#8a8a8a"/>
<rect x="43.2" y="22.0" width="2.8" height="17.4" fill="#acacac"/>
<rect x="45.2" y="22.0" width="0.8" height="17.4" fill="#8a8a8a"/>
<path d="M61.0 24.0 L78.7 38.4 M78.7 24.0 L61.0 38.4" stroke="#949494" stroke-width="1.8" fill="none"/>
<path d="M80.7 24.0 L98.4 38.4 M98.4 24.0 L80.7 38.4" stroke="#949494" stroke-width="1.8" fill="none"/>
<rect x="58.6" y="22.0" width="2.8" height="17.4" fill="#acacac"/>
<rect x="60.6" y="22.0" width="0.8" height="17.4" fill="#8a8a8a"/>
<rect x="78.3" y="22.0" width="2.8" height="17.4" fill="#acacac"/>
<rect x="80.3" y="22.0" width="0.8" height="17.4" fill="#8a8a8a"/>
<rect x="98.0" y="22.0" width="2.8" height="17.4" fill="#acacac"/>
<rect x="100.0" y="22.0" width="0.8" height="17.4" fill="#8a8a8a"/>
<path d="M0.6 7.4 L105.8 7.4 L105.8 23.4 Q80 25.4 54.6 26.8 L52.2 31 L49.8 26.8 Q26 25.4 0.6 23.4 Z" fill="url(#gThk)"/>
<path d="M0.6 21.6 L0.6 23.4 Q26 25.4 49.8 26.8 L52.2 31 L54.6 26.8 Q80 25.4 105.8 23.4 L105.8 21.6 Q80 23.6 52 24.8 Q26 23.6 0.6 21.6 Z" fill="#b4860c" opacity="0.55"/>
<rect x="0" y="0" width="106" height="8.4" fill="#f3f3f3"/>
<rect x="0" y="0" width="106" height="1.1" fill="#8e8e8e"/>
<path d="M38 8.4 L38 7.2 L106 7.2 L106 8.4 Z" fill="#dca71c"/>
<rect x="44.6" y="-1.8" width="16.4" height="2.6" fill="#7d7d7d"/>
<rect x="49.5" y="-3.8" width="6" height="3" rx="1" fill="#b5b5b5" stroke="#555" stroke-width="0.7"/></g>
<g transform="translate(477,349.8)"><path d="M7.4 24.0 L24.5 38.4 M24.5 24.0 L7.4 38.4" stroke="#949494" stroke-width="1.8" fill="none"/>
<path d="M26.5 24.0 L43.6 38.4 M43.6 24.0 L26.5 38.4" stroke="#949494" stroke-width="1.8" fill="none"/>
<rect x="5.0" y="22.0" width="2.8" height="17.4" fill="#acacac"/>
<rect x="7.0" y="22.0" width="0.8" height="17.4" fill="#8a8a8a"/>
<rect x="24.1" y="22.0" width="2.8" height="17.4" fill="#acacac"/>
<rect x="26.1" y="22.0" width="0.8" height="17.4" fill="#8a8a8a"/>
<rect x="43.2" y="22.0" width="2.8" height="17.4" fill="#acacac"/>
<rect x="45.2" y="22.0" width="0.8" height="17.4" fill="#8a8a8a"/>
<path d="M61.0 24.0 L78.7 38.4 M78.7 24.0 L61.0 38.4" stroke="#949494" stroke-width="1.8" fill="none"/>
<path d="M80.7 24.0 L98.4 38.4 M98.4 24.0 L80.7 38.4" stroke="#949494" stroke-width="1.8" fill="none"/>
<rect x="58.6" y="22.0" width="2.8" height="17.4" fill="#acacac"/>
<rect x="60.6" y="22.0" width="0.8" height="17.4" fill="#8a8a8a"/>
<rect x="78.3" y="22.0" width="2.8" height="17.4" fill="#acacac"/>
<rect x="80.3" y="22.0" width="0.8" height="17.4" fill="#8a8a8a"/>
<rect x="98.0" y="22.0" width="2.8" height="17.4" fill="#acacac"/>
<rect x="100.0" y="22.0" width="0.8" height="17.4" fill="#8a8a8a"/>
<path d="M0.6 7.4 L105.8 7.4 L105.8 23.4 Q80 25.4 54.6 26.8 L52.2 31 L49.8 26.8 Q26 25.4 0.6 23.4 Z" fill="url(#gThk)"/>
<path d="M0.6 21.6 L0.6 23.4 Q26 25.4 49.8 26.8 L52.2 31 L54.6 26.8 Q80 25.4 105.8 23.4 L105.8 21.6 Q80 23.6 52 24.8 Q26 23.6 0.6 21.6 Z" fill="#b4860c" opacity="0.55"/>
<rect x="0" y="0" width="106" height="8.4" fill="#f3f3f3"/>
<rect x="0" y="0" width="106" height="1.1" fill="#8e8e8e"/>
<path d="M38 8.4 L38 7.2 L106 7.2 L106 8.4 Z" fill="#dca71c"/>
<rect x="44.6" y="-1.8" width="16.4" height="2.6" fill="#7d7d7d"/>
<rect x="49.5" y="-3.8" width="6" height="3" rx="1" fill="#b5b5b5" stroke="#555" stroke-width="0.7"/></g>
<g id="press">
<rect x="76.8" y="315" width="1.6" height="23" fill="#8e8e8e"/>
<rect x="82.75" y="315" width="1.6" height="23" fill="#8e8e8e"/>
<rect x="88.7" y="315" width="1.6" height="23" fill="#8e8e8e"/>
<rect x="94.65" y="315" width="1.6" height="23" fill="#8e8e8e"/>
<rect x="100.6" y="315" width="1.6" height="23" fill="#8e8e8e"/>
<rect x="106.55" y="315" width="1.6" height="23" fill="#8e8e8e"/>
<rect x="112.5" y="315" width="1.6" height="23" fill="#8e8e8e"/>
<rect x="118.45" y="315" width="1.6" height="23" fill="#8e8e8e"/>
<rect x="124.4" y="315" width="1.6" height="23" fill="#8e8e8e"/>
<rect x="130.35" y="315" width="1.6" height="23" fill="#8e8e8e"/>
<rect x="136.3" y="315" width="1.6" height="23" fill="#8e8e8e"/>
<rect x="142.25" y="315" width="1.6" height="23" fill="#8e8e8e"/>
<rect x="71.4" y="325.6" width="1.6" height="12" fill="#a5a5a5"/>
<rect x="146.8" y="325.6" width="1.6" height="12" fill="#a5a5a5"/>
<path d="M48.6 346 V336 H59 M48.6 341 H59 M53.6 336 V346" stroke="#8a8a8a" stroke-width="0.9" fill="none"/>
<path d="M166 336.2 H177.6 V346.4 M166 341 H177.6 M172 336.2 V346.4" stroke="#8a8a8a" stroke-width="0.9" fill="none"/>
<rect x="58.8" y="328.8" width="11.6" height="9" fill="#a8a8a8"/>
<path d="M58.8 331.5 h11.6 M58.8 334.5 h11.6 M62.5 328.8 v9 M66.5 328.8 v9" stroke="#8c8c8c" stroke-width="0.6"/>
<rect x="58.6" y="337" width="107" height="9.6" fill="#9a9a9a"/>
<rect x="58.6" y="337" width="107" height="1" fill="#7a7a7a"/>
<path d="M59 341.4 H165" stroke="#c4c4c4" stroke-width="1.2" stroke-dasharray="2.4 1.6"/>
<path d="M59 344 H165" stroke="#7c7c7c" stroke-width="1" stroke-dasharray="3 2"/>
<rect x="48.6" y="345.6" width="129" height="1.2" fill="#7a7a7a"/>
<rect x="58.4" y="346.6" width="100" height="29.2" fill="#929292"/>
<rect x="58.4" y="346.6" width="8.4" height="29.2" fill="#b0b0b0"/>
<rect x="67" y="346.6" width="85" height="3" fill="#6a6a6a"/>
<rect x="68.6" y="366.6" width="83" height="9.2" fill="#8a8a8a"/>
<rect x="78.8" y="354.8" width="3.2" height="9.2" rx="1" fill="#f2f2f2"/>
<rect x="80.1" y="357" width="0.7" height="7" fill="#9a9a9a"/>
<rect x="84.64" y="354.8" width="3.2" height="9.2" rx="1" fill="#f2f2f2"/>
<rect x="85.94" y="357" width="0.7" height="7" fill="#9a9a9a"/>
<rect x="90.48" y="354.8" width="3.2" height="9.2" rx="1" fill="#f2f2f2"/>
<rect x="91.78" y="357" width="0.7" height="7" fill="#9a9a9a"/>
<rect x="96.32" y="354.8" width="3.2" height="9.2" rx="1" fill="#f2f2f2"/>
<rect x="97.62" y="357" width="0.7" height="7" fill="#9a9a9a"/>
<rect x="102.16" y="354.8" width="3.2" height="9.2" rx="1" fill="#f2f2f2"/>
<rect x="103.46" y="357" width="0.7" height="7" fill="#9a9a9a"/>
<rect x="108" y="354.8" width="3.2" height="9.2" rx="1" fill="#f2f2f2"/>
<rect x="109.3" y="357" width="0.7" height="7" fill="#9a9a9a"/>
<rect x="113.84" y="354.8" width="3.2" height="9.2" rx="1" fill="#f2f2f2"/>
<rect x="115.14" y="357" width="0.7" height="7" fill="#9a9a9a"/>
<rect x="119.68" y="354.8" width="3.2" height="9.2" rx="1" fill="#f2f2f2"/>
<rect x="120.98" y="357" width="0.7" height="7" fill="#9a9a9a"/>
<rect x="125.52" y="354.8" width="3.2" height="9.2" rx="1" fill="#f2f2f2"/>
<rect x="126.82" y="357" width="0.7" height="7" fill="#9a9a9a"/>
<rect x="131.36" y="354.8" width="3.2" height="9.2" rx="1" fill="#f2f2f2"/>
<rect x="132.66" y="357" width="0.7" height="7" fill="#9a9a9a"/>
<rect x="137.2" y="354.8" width="3.2" height="9.2" rx="1" fill="#f2f2f2"/>
<rect x="138.5" y="357" width="0.7" height="7" fill="#9a9a9a"/>
<path d="M152 346.6 H163.4 V366 Q163 372.6 157 375.8 H152 Z" fill="#9e9e9e"/>
<rect x="152.6" y="323.4" width="10" height="14.4" rx="1.5" fill="#b4b4b4" stroke="#7a7a7a" stroke-width="0.7"/>
<rect x="154" y="338" width="11" height="8" fill="#8c8c8c"/>
<path d="M156.6 323.4 Q158 321.6 163 322.6 Q171.4 325 171.6 338 Q171.6 352 163.6 360.6" stroke="#2e2e2e" stroke-width="1.3" fill="none"/>
<path d="M160 323.6 Q168.6 325.6 168.8 338 Q168.6 350 162.6 357.6" stroke="#4a4a4a" stroke-width="1" fill="none"/>
<path d="M163 326 Q166 330 166 338 Q166 346 163.4 351" stroke="#5a5a5a" stroke-width="0.9" fill="none"/>
<rect x="66.4" y="346.6" width="1.8" height="32" fill="#555"/>
<rect x="151" y="346.6" width="1.8" height="32" fill="#555"/>
<rect x="95.6" y="374" width="1.8" height="5" fill="#555"/><rect x="123" y="374" width="1.8" height="5" fill="#555"/>
<rect x="48.5" y="377.8" width="129.5" height="10.8" fill="#dadada"/>
<rect x="48.5" y="377.6" width="129.5" height="1.2" fill="#9c9c9c"/>
<rect x="48.5" y="387.6" width="129.5" height="1" fill="#c8c8c8"/>
</g>
<g id="tfilter">
<rect x="263.8" y="296" width="140.8" height="2.4" fill="#6f6f6f"/>
<rect x="263.8" y="296" width="2" height="26" fill="#7a7a7a"/>
<rect x="285" y="299.6" width="118" height="5.6" fill="#fff" stroke="#6a6a6a" stroke-width="1.2"/>
<rect x="294.8" y="299.6" width="1.4" height="5.6" fill="#6a6a6a"/>
<rect x="304.6" y="299.6" width="1.4" height="5.6" fill="#6a6a6a"/>
<rect x="314.4" y="299.6" width="1.4" height="5.6" fill="#6a6a6a"/>
<rect x="324.2" y="299.6" width="1.4" height="5.6" fill="#6a6a6a"/>
<rect x="334" y="299.6" width="1.4" height="5.6" fill="#6a6a6a"/>
<rect x="343.8" y="299.6" width="1.4" height="5.6" fill="#6a6a6a"/>
<rect x="353.6" y="299.6" width="1.4" height="5.6" fill="#6a6a6a"/>
<rect x="363.4" y="299.6" width="1.4" height="5.6" fill="#6a6a6a"/>
<rect x="373.2" y="299.6" width="1.4" height="5.6" fill="#6a6a6a"/>
<rect x="383" y="299.6" width="1.4" height="5.6" fill="#6a6a6a"/>
<rect x="392.8" y="299.6" width="1.4" height="5.6" fill="#6a6a6a"/>
<path d="M252.8 322 V311.4 H283 M252.8 316 H283 M258 311.4 V322 M264 311.4 V322 M270 311.4 V322 M276 311.4 V322" stroke="#7c7c7c" stroke-width="0.9" fill="none"/>
<path d="M403 311.4 H431.6 V322 M403 316.5 H431.6 M409 311.4 V322 M415 311.4 V322 M421 311.4 V322" stroke="#7c7c7c" stroke-width="0.9" fill="none"/>
<rect x="282.5" y="310.4" width="120.5" height="11.6" fill="#858585"/>
<rect x="282.5" y="310.4" width="120.5" height="1.6" fill="#6a6a6a"/>
<rect x="255" y="315" width="28" height="7" fill="#9a9a9a" opacity="0.7"/>
<rect x="285" y="312.5" width="0.8" height="9" fill="#b5b5b5" opacity="0.6"/>
<rect x="289" y="312.5" width="0.8" height="9" fill="#b5b5b5" opacity="0.6"/>
<rect x="293" y="312.5" width="0.8" height="9" fill="#b5b5b5" opacity="0.6"/>
<rect x="297" y="312.5" width="0.8" height="9" fill="#b5b5b5" opacity="0.6"/>
<rect x="301" y="312.5" width="0.8" height="9" fill="#b5b5b5" opacity="0.6"/>
<rect x="305" y="312.5" width="0.8" height="9" fill="#b5b5b5" opacity="0.6"/>
<rect x="309" y="312.5" width="0.8" height="9" fill="#b5b5b5" opacity="0.6"/>
<rect x="313" y="312.5" width="0.8" height="9" fill="#b5b5b5" opacity="0.6"/>
<rect x="317" y="312.5" width="0.8" height="9" fill="#b5b5b5" opacity="0.6"/>
<rect x="321" y="312.5" width="0.8" height="9" fill="#b5b5b5" opacity="0.6"/>
<rect x="325" y="312.5" width="0.8" height="9" fill="#b5b5b5" opacity="0.6"/>
<rect x="329" y="312.5" width="0.8" height="9" fill="#b5b5b5" opacity="0.6"/>
<rect x="333" y="312.5" width="0.8" height="9" fill="#b5b5b5" opacity="0.6"/>
<rect x="337" y="312.5" width="0.8" height="9" fill="#b5b5b5" opacity="0.6"/>
<rect x="341" y="312.5" width="0.8" height="9" fill="#b5b5b5" opacity="0.6"/>
<rect x="345" y="312.5" width="0.8" height="9" fill="#b5b5b5" opacity="0.6"/>
<rect x="349" y="312.5" width="0.8" height="9" fill="#b5b5b5" opacity="0.6"/>
<rect x="353" y="312.5" width="0.8" height="9" fill="#b5b5b5" opacity="0.6"/>
<rect x="357" y="312.5" width="0.8" height="9" fill="#b5b5b5" opacity="0.6"/>
<rect x="361" y="312.5" width="0.8" height="9" fill="#b5b5b5" opacity="0.6"/>
<rect x="365" y="312.5" width="0.8" height="9" fill="#b5b5b5" opacity="0.6"/>
<rect x="369" y="312.5" width="0.8" height="9" fill="#b5b5b5" opacity="0.6"/>
<rect x="373" y="312.5" width="0.8" height="9" fill="#b5b5b5" opacity="0.6"/>
<rect x="377" y="312.5" width="0.8" height="9" fill="#b5b5b5" opacity="0.6"/>
<rect x="381" y="312.5" width="0.8" height="9" fill="#b5b5b5" opacity="0.6"/>
<rect x="385" y="312.5" width="0.8" height="9" fill="#b5b5b5" opacity="0.6"/>
<rect x="389" y="312.5" width="0.8" height="9" fill="#b5b5b5" opacity="0.6"/>
<rect x="393" y="312.5" width="0.8" height="9" fill="#b5b5b5" opacity="0.6"/>
<rect x="397" y="312.5" width="0.8" height="9" fill="#b5b5b5" opacity="0.6"/>
<rect x="401" y="312.5" width="0.8" height="9" fill="#b5b5b5" opacity="0.6"/>
<rect x="244.3" y="322.6" width="190" height="5.6" fill="url(#gPlat)"/>
<rect x="256.4" y="328" width="2.6" height="47" fill="#707070"/>
<rect x="260.5" y="328" width="1.6" height="47" fill="#8a8a8a"/>
<rect x="263.6" y="328" width="2.4" height="47" fill="#7a7a7a"/>
<rect x="267.6" y="328" width="2.2" height="47" fill="#9a9a9a"/>
<rect x="270" y="329" width="132" height="15" fill="#9d9d9d"/>
<rect x="270" y="329" width="132" height="2" fill="#c9c9c9"/>
<rect x="272" y="331" width="0.9" height="13" fill="#6e6e6e" opacity="0.7"/>
<rect x="275" y="331" width="0.9" height="13" fill="#6e6e6e" opacity="0.7"/>
<rect x="278" y="331" width="0.9" height="13" fill="#6e6e6e" opacity="0.7"/>
<rect x="281" y="331" width="0.9" height="13" fill="#6e6e6e" opacity="0.7"/>
<rect x="284" y="331" width="0.9" height="13" fill="#6e6e6e" opacity="0.7"/>
<rect x="287" y="331" width="0.9" height="13" fill="#6e6e6e" opacity="0.7"/>
<rect x="290" y="331" width="0.9" height="13" fill="#6e6e6e" opacity="0.7"/>
<rect x="293" y="331" width="0.9" height="13" fill="#6e6e6e" opacity="0.7"/>
<rect x="296" y="331" width="0.9" height="13" fill="#6e6e6e" opacity="0.7"/>
<rect x="299" y="331" width="0.9" height="13" fill="#6e6e6e" opacity="0.7"/>
<rect x="302" y="331" width="0.9" height="13" fill="#6e6e6e" opacity="0.7"/>
<rect x="305" y="331" width="0.9" height="13" fill="#6e6e6e" opacity="0.7"/>
<rect x="308" y="331" width="0.9" height="13" fill="#6e6e6e" opacity="0.7"/>
<rect x="311" y="331" width="0.9" height="13" fill="#6e6e6e" opacity="0.7"/>
<rect x="314" y="331" width="0.9" height="13" fill="#6e6e6e" opacity="0.7"/>
<rect x="317" y="331" width="0.9" height="13" fill="#6e6e6e" opacity="0.7"/>
<rect x="320" y="331" width="0.9" height="13" fill="#6e6e6e" opacity="0.7"/>
<rect x="323" y="331" width="0.9" height="13" fill="#6e6e6e" opacity="0.7"/>
<rect x="326" y="331" width="0.9" height="13" fill="#6e6e6e" opacity="0.7"/>
<rect x="329" y="331" width="0.9" height="13" fill="#6e6e6e" opacity="0.7"/>
<rect x="332" y="331" width="0.9" height="13" fill="#6e6e6e" opacity="0.7"/>
<rect x="335" y="331" width="0.9" height="13" fill="#6e6e6e" opacity="0.7"/>
<rect x="338" y="331" width="0.9" height="13" fill="#6e6e6e" opacity="0.7"/>
<rect x="341" y="331" width="0.9" height="13" fill="#6e6e6e" opacity="0.7"/>
<rect x="344" y="331" width="0.9" height="13" fill="#6e6e6e" opacity="0.7"/>
<rect x="347" y="331" width="0.9" height="13" fill="#6e6e6e" opacity="0.7"/>
<rect x="350" y="331" width="0.9" height="13" fill="#6e6e6e" opacity="0.7"/>
<rect x="353" y="331" width="0.9" height="13" fill="#6e6e6e" opacity="0.7"/>
<rect x="356" y="331" width="0.9" height="13" fill="#6e6e6e" opacity="0.7"/>
<rect x="359" y="331" width="0.9" height="13" fill="#6e6e6e" opacity="0.7"/>
<rect x="362" y="331" width="0.9" height="13" fill="#6e6e6e" opacity="0.7"/>
<rect x="365" y="331" width="0.9" height="13" fill="#6e6e6e" opacity="0.7"/>
<rect x="368" y="331" width="0.9" height="13" fill="#6e6e6e" opacity="0.7"/>
<rect x="371" y="331" width="0.9" height="13" fill="#6e6e6e" opacity="0.7"/>
<rect x="374" y="331" width="0.9" height="13" fill="#6e6e6e" opacity="0.7"/>
<rect x="377" y="331" width="0.9" height="13" fill="#6e6e6e" opacity="0.7"/>
<rect x="380" y="331" width="0.9" height="13" fill="#6e6e6e" opacity="0.7"/>
<rect x="383" y="331" width="0.9" height="13" fill="#6e6e6e" opacity="0.7"/>
<rect x="386" y="331" width="0.9" height="13" fill="#6e6e6e" opacity="0.7"/>
<rect x="389" y="331" width="0.9" height="13" fill="#6e6e6e" opacity="0.7"/>
<rect x="392" y="331" width="0.9" height="13" fill="#6e6e6e" opacity="0.7"/>
<rect x="395" y="331" width="0.9" height="13" fill="#6e6e6e" opacity="0.7"/>
<rect x="398" y="331" width="0.9" height="13" fill="#6e6e6e" opacity="0.7"/>
<rect x="401" y="331" width="0.9" height="13" fill="#6e6e6e" opacity="0.7"/>
<rect x="364" y="329" width="38" height="15" fill="#c4c4c4" opacity="0.55"/>
<rect x="270" y="334" width="93" height="6" fill="#848484"/>
<rect x="275" y="334" width="88" height="1" fill="#b5b5b5"/>
<rect x="270" y="332" width="8" height="7" fill="#d5d5d5"/>
<rect x="402" y="329" width="18" height="13.6" fill="#9a9a9a"/>
<rect x="404" y="331" width="6" height="4" fill="#ededed"/><rect x="404" y="337" width="5" height="3.4" fill="#e0e0e0"/><rect x="411" y="331" width="6" height="3" fill="#d5d5d5"/>
<rect x="293.6" y="298" width="2.6" height="77" fill="#5e5e5e"/>
<rect x="339.4" y="298" width="2.6" height="77" fill="#5e5e5e"/>
<rect x="390" y="298" width="2.6" height="31" fill="#5e5e5e"/>
<rect x="425.7" y="300" width="2.8" height="75" fill="#5e5e5e"/>
<path d="M300 361.6 L321 336 M332.6 361.6 L311.6 336" stroke="#666" stroke-width="1.1" fill="none"/>
<rect x="272.3" y="361" width="137.5" height="13.8" fill="#989898"/>
<path d="M272.3 361.4 H420 M272.3 365.5 H420 M272.3 370 H420" stroke="#666" stroke-width="0.8" fill="none"/>
<rect x="272.3" y="361" width="0.8" height="13.8" fill="#6a6a6a" opacity="0.8"/>
<rect x="278" y="361" width="0.8" height="13.8" fill="#6a6a6a" opacity="0.8"/>
<rect x="283.7" y="361" width="0.8" height="13.8" fill="#6a6a6a" opacity="0.8"/>
<rect x="289.4" y="361" width="0.8" height="13.8" fill="#6a6a6a" opacity="0.8"/>
<rect x="295.1" y="361" width="0.8" height="13.8" fill="#6a6a6a" opacity="0.8"/>
<rect x="300.8" y="361" width="0.8" height="13.8" fill="#6a6a6a" opacity="0.8"/>
<rect x="306.5" y="361" width="0.8" height="13.8" fill="#6a6a6a" opacity="0.8"/>
<rect x="312.2" y="361" width="0.8" height="13.8" fill="#6a6a6a" opacity="0.8"/>
<rect x="317.9" y="361" width="0.8" height="13.8" fill="#6a6a6a" opacity="0.8"/>
<rect x="323.6" y="361" width="0.8" height="13.8" fill="#6a6a6a" opacity="0.8"/>
<rect x="329.3" y="361" width="0.8" height="13.8" fill="#6a6a6a" opacity="0.8"/>
<rect x="335" y="361" width="0.8" height="13.8" fill="#6a6a6a" opacity="0.8"/>
<rect x="340.7" y="361" width="0.8" height="13.8" fill="#6a6a6a" opacity="0.8"/>
<rect x="346.4" y="361" width="0.8" height="13.8" fill="#6a6a6a" opacity="0.8"/>
<rect x="352.1" y="361" width="0.8" height="13.8" fill="#6a6a6a" opacity="0.8"/>
<rect x="357.8" y="361" width="0.8" height="13.8" fill="#6a6a6a" opacity="0.8"/>
<rect x="363.5" y="361" width="0.8" height="13.8" fill="#6a6a6a" opacity="0.8"/>
<rect x="369.2" y="361" width="0.8" height="13.8" fill="#6a6a6a" opacity="0.8"/>
<rect x="374.9" y="361" width="0.8" height="13.8" fill="#6a6a6a" opacity="0.8"/>
<rect x="380.6" y="361" width="0.8" height="13.8" fill="#6a6a6a" opacity="0.8"/>
<rect x="386.3" y="361" width="0.8" height="13.8" fill="#6a6a6a" opacity="0.8"/>
<rect x="392" y="361" width="0.8" height="13.8" fill="#6a6a6a" opacity="0.8"/>
<rect x="397.7" y="361" width="0.8" height="13.8" fill="#6a6a6a" opacity="0.8"/>
<rect x="403.4" y="361" width="0.8" height="13.8" fill="#6a6a6a" opacity="0.8"/>
<rect x="409.1" y="361" width="0.8" height="13.8" fill="#6a6a6a" opacity="0.8"/>
<path d="M409.8 361.4 H419.7 V374.8 M414 361.4 V374.8 M409.8 368 H419.7" stroke="#777" stroke-width="0.9" fill="none"/>
<rect x="244.3" y="375" width="190" height="11" fill="#dedede"/>
<rect x="244.3" y="375" width="190" height="1.4" fill="#b5b5b5"/>
<rect x="244.3" y="384.6" width="190" height="1.4" fill="#cfcfcf"/>
<path d="M276.5 386 L410 386 L405 389 L396 390.5 L393.5 394.6 L391 390.5 L376 388.6 L362 390.5 L359.6 394.6 L357 390.5 L343 388.6 L329 390.5 L326.5 394.6 L324 390.5 L309 388.6 L295 390.5 L292.6 394.6 L290 390.5 L281 389 Z" fill="#c4c4c4"/>
</g>
<g id="cyclone">
<rect x="533.2" y="39.6" width="3.6" height="8.8" fill="#e4a812"/>
<rect x="531" y="47" width="8" height="1.8" fill="#c99200"/>
<rect x="520.6" y="49.8" width="4" height="1.8" fill="#6e5a1c"/>
<rect x="524" y="49.2" width="20.8" height="1.6" fill="#b88a04"/>
<rect x="524" y="50.4" width="20.8" height="11.6" fill="url(#gTank)"/>
<rect x="524" y="61.2" width="20.8" height="1.2" fill="#a87a00"/>
<polygon points="524.4,62.4 544.4,62.4 535.6,88.4 533,88.4" fill="url(#gTank)"/>
</g>
<g id="disc">
<path d="M572.8 86.6 A8.9 9.3 0 0 1 590.6 86.6 Z" fill="url(#gDomeR)" stroke="#3c3c3c" stroke-width="0.8"/>
<rect x="580.2" y="84" width="3" height="2.8" rx="0.8" fill="#f4f4f4" stroke="#444" stroke-width="0.6"/>
<rect x="568.4" y="86.4" width="27.6" height="8.2" fill="url(#gDiscB)"/>
<rect x="568.4" y="86.2" width="27.6" height="1.2" fill="#4a4a4a"/>
<polygon points="569,94.4 580.6,94.4 578,100 572,100" fill="#f0f0f0" stroke="#4a4a4a" stroke-width="0.8"/>
<polygon points="583.4,94.4 595.4,94.4 592.4,100 586,100" fill="#f0f0f0" stroke="#4a4a4a" stroke-width="0.8"/>
<path d="M578.6 100 L582 95.6 L585.4 100" stroke="#222" stroke-width="0.9" fill="#fff"/>
<rect x="569" y="99.6" width="26.4" height="1" fill="#9a9a9a"/>
</g>
<g id="hydro">
<polygon points="527,187.6 557,187.6 557,200 563,204.4 562,207.4 550,208.4 541,202 531,193" fill="#e6a80c"/>
<polygon points="545,187.6 557,187.6 557,200 563,204.4 562,207.4 554,208" fill="#c48c04"/>
<polygon points="512.6,188 509,213 512,213 515,188" fill="#c9c9c9"/>
<polygon points="555,188 558.6,213 561.4,213 557.6,188" fill="#c9c9c9"/>
<path d="M513 188 L509 214 M557.4 188 L561.2 214 M514 189.6 L534 212.6 M516 189 L544 206.4 M556 189 L545.6 213 M552.6 190 L556 213" stroke="#777" stroke-width="0.9" fill="none"/>
<rect x="508" y="212.8" width="54.4" height="3" fill="#b4b4b4"/>
<rect x="508" y="212.6" width="54.4" height="0.8" fill="#7a7a7a"/>
<path d="M514.2 181.4 V157 A20.3 20.2 0 0 1 554.8 157 V181.4 Z" fill="#efb10a" stroke="#a88004" stroke-width="0.8"/>
<path d="M514.6 181 V164 Q518 178 530 181 Z" fill="#d89c04" opacity="0.8"/>
<path d="M528.6 175 V181" stroke="#b88a04" stroke-width="0.8"/>
<circle cx="534.8" cy="155.6" r="17.4" fill="#efb10a" stroke="#a07a04" stroke-width="0.8"/>
<circle cx="534.8" cy="155.6" r="16.2" fill="none" stroke="#f8da62" stroke-width="1.5"/>
<clipPath id="cpW"><circle cx="534.8" cy="155.6" r="15.2"/></clipPath>
<g clip-path="url(#cpW)">
<rect x="518" y="138" width="34" height="20" fill="#fdfdfd"/>
<polygon points="521.4,148.4 547.4,144.4 548.6,150 541.4,150.6 527,155.6 521.4,156" fill="#efb10a" stroke="#a07a04" stroke-width="0.6"/>
<polygon points="541.4,150.4 548.6,149.6 549.6,158.4 541.4,158.4" fill="#efb10a" stroke="#a07a04" stroke-width="0.6"/>
<polygon points="521.4,155.8 527.6,155.4 527.6,158.4 521.4,158.4" fill="#e0a408"/>
</g>
<circle cx="534.8" cy="155.6" r="15.2" fill="none" stroke="#a07a04" stroke-width="0.7"/>
<circle cx="534.6" cy="155.6" r="2.4" fill="#f4f4fa" stroke="#6e7490" stroke-width="0.9"/>
<rect x="511.6" y="181.2" width="46.4" height="6.6" fill="#d2d2d6"/>
<rect x="511.6" y="181" width="46.4" height="0.9" fill="#9a9a9a"/>
<rect x="511.6" y="187" width="46.4" height="1.1" fill="#666"/>
<rect x="561" y="205" width="52" height="3.6" fill="#8c8c8c"/>
<rect x="593.4" y="208.6" width="4.6" height="6.4" fill="#777"/>
<polygon points="568,198 576,190 593,190 608.6,198 608.6,205 568,205" fill="#f0b310" stroke="#a88004" stroke-width="0.6"/>
<polygon points="593,190 608.6,198 608.6,205 604,205 604,199 590,191.4" fill="#d79b02"/>
<polygon points="568,198 576,190 580,190 572.6,198 572.6,205 568,205" fill="#dca006"/>
<rect x="562" y="197.6" width="6.4" height="6.4" fill="#c08a00"/>
</g>
<g id="flot">
<rect x="575" y="252.8" width="30" height="4.8" rx="1" fill="#ecb41c"/>
<rect x="575" y="256.4" width="30" height="1.2" fill="#b88600"/>
<rect x="579" y="257.6" width="24.4" height="9.6" fill="#8a8a90"/>
<rect x="579" y="257.6" width="5.4" height="9.6" fill="#5e5e62"/>
<rect x="596.6" y="257.6" width="6.8" height="9.6" fill="#5e5e62"/>
<rect x="586" y="259" width="8.6" height="6" rx="2.4" fill="#f8f8f8"/>
<rect x="563.4" y="260.6" width="3.6" height="6.6" fill="#a5a5a5" stroke="#6e6e6e" stroke-width="0.5"/>
<rect x="556.8" y="267" width="50.4" height="6.8" fill="#d8d8de"/>
<rect x="556.8" y="267" width="50.4" height="1" fill="#a5a5a5"/>
<rect x="556.8" y="272.8" width="50.4" height="1" fill="#8a8a8a"/>
<rect x="559.8" y="273.6" width="45.2" height="41.6" fill="url(#gFlot)"/>
<rect x="559.8" y="314.2" width="45.2" height="1.2" fill="#a87e0a"/>
<rect x="604.8" y="308.6" width="2.4" height="7.4" fill="#8a6c14"/>
<rect x="557.4" y="314.8" width="11" height="5.6" fill="#dca414" stroke="#a8800c" stroke-width="0.6"/>
<rect x="581" y="274" width="3" height="5.4" fill="#c48c00" stroke="#7a5a00" stroke-width="0.5"/>
</g>
<path class="ln" d="M582.4 284 L582.4 296.5 L559 296.5"/>
<g id="labels" style="filter:grayscale(1)">
<text transform="translate(20.60,29.00) scale(1,0.87)">石灰石</text>
<text transform="translate(150.00,103.00) scale(1,0.87)">球磨机</text>
<text transform="translate(284.76,26.00) scale(1,0.87)">沉凝器</text>
<text transform="translate(414.76,18.00) scale(1,0.87)">二段磨矿</text>
<text transform="translate(251.98,124.00) scale(1,0.87)">螺旋溜槽</text>
<text transform="translate(171.00,158.00) scale(1,0.87)">细磨</text>
<text transform="translate(534.52,119.00) scale(1,0.87)">圆盘真空过滤机</text>
<text transform="translate(558.88,177.00) scale(1,0.87)">水力旋流器</text>
<text transform="translate(9.00,230.00) scale(1,0.87)">精矿浓缩机</text>
<text transform="translate(579.20,246.00) scale(1,0.87)">浮选</text>
<text transform="translate(109.12,312.00) scale(1,0.87)">精矿过滤机</text>
<text transform="translate(320.76,290.00) scale(1,0.87)">尾矿过滤</text>
<text transform="translate(545.40,345.00) scale(1,0.87)">尾矿浓缩</text>
<text transform="translate(120.00,426.00) scale(1,0.87)">精矿</text>
<text transform="translate(381.10,427.00) scale(1,0.87)">尾矿处理</text>
<text transform="translate(264.00,456.00) scale(1,0.87)">石灰石制粉</text>
</g>
</svg></body></html>
